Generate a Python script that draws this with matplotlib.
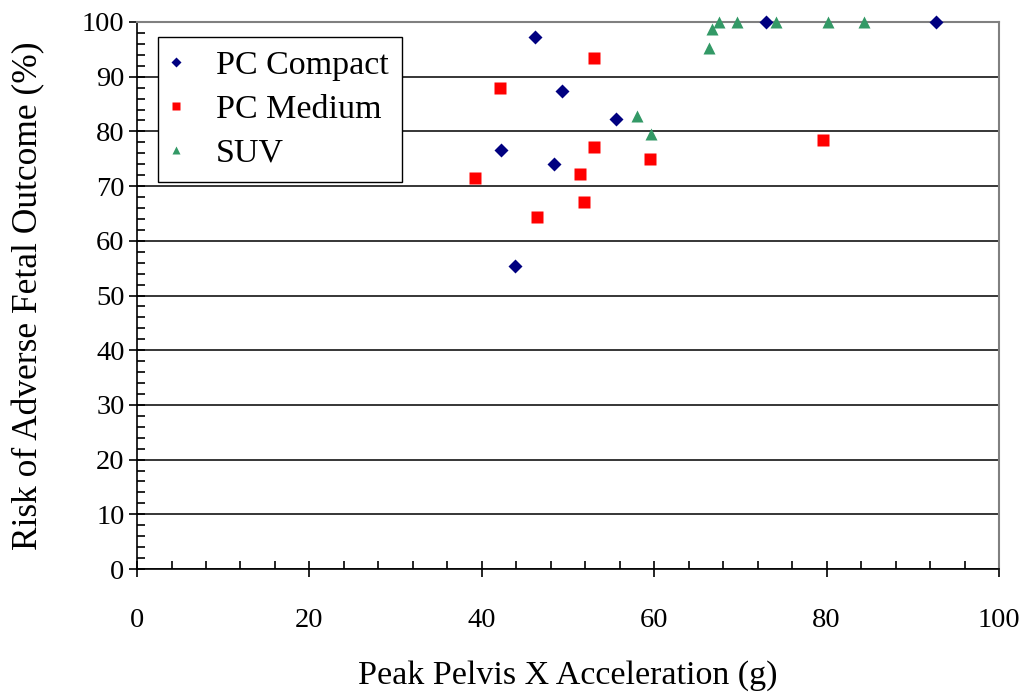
import matplotlib.pyplot as plt
from matplotlib.ticker import MultipleLocator

plt.rcParams['font.family'] = ['Liberation Serif', 'DejaVu Serif']

# peak pelvis x acceleration (g) and risk of adverse fetal outcome (%)
compact_x = [42.2, 43.9, 46.2, 48.4, 49.3, 55.6, 73.0, 92.7]
compact_y = [76.6, 55.4, 97.3, 74.0, 87.4, 82.3, 100, 100]

medium_x = [39.2, 42.1, 46.4, 51.4, 51.9, 53.0, 53.0, 59.5, 79.6]
medium_y = [71.5, 87.9, 64.4, 72.2, 67.1, 93.4, 77.1, 75.0, 78.4]

suv_x = [58.0, 59.6, 66.4, 66.7, 67.5, 69.6, 74.1, 80.2, 84.3]
suv_y = [82.8, 79.5, 95.2, 98.7, 100, 100, 100, 100, 100]

fig = plt.figure(figsize=(10.28, 6.94), dpi=100)
ax = fig.add_axes([0.1333, 0.1801, 0.8385, 0.7882])

ax.plot(compact_x, compact_y, 'D', color='#000080', ms=7, mec='none', label='PC Compact', clip_on=False, zorder=3)
ax.plot(medium_x, medium_y, 's', color='#FF0000', ms=8.5, mec='none', label='PC Medium', clip_on=False, zorder=3)
ax.plot(suv_x, suv_y, '^', color='#339966', ms=9, mec='none', label='SUV', clip_on=False, zorder=3)

ax.set_xlim(0, 100)
ax.set_ylim(0, 100)
ax.xaxis.set_major_locator(MultipleLocator(20))
ax.xaxis.set_minor_locator(MultipleLocator(4))
ax.yaxis.set_major_locator(MultipleLocator(10))
ax.yaxis.set_minor_locator(MultipleLocator(2))
ax.tick_params(which='major', direction='inout', length=12, width=1.2, labelsize=20.5)
ax.tick_params(which='minor', direction='in', length=6, width=1.2)
ax.tick_params(axis='x', which='major', pad=22)
ax.tick_params(axis='y', which='major', pad=3)

ax.yaxis.grid(True, which='major', color='black', lw=1.1)
ax.set_axisbelow(True)
for side in ['top', 'right']:
    ax.spines[side].set_color('#808080')
    ax.spines[side].set_linewidth(1.5)
for side in ['left', 'bottom']:
    ax.spines[side].set_linewidth(1.2)

ax.set_xlabel('Peak Pelvis X Acceleration (g)', fontsize=24.5, labelpad=20)
ax.set_ylabel('Risk of Adverse Fetal Outcome (%)', fontsize=25.5, labelpad=26)

leg = ax.legend(loc='upper left', bbox_to_anchor=(0.024, 0.973), fontsize=24.5,
                fancybox=False, edgecolor='black', framealpha=1,
                markerscale=0.7, handlelength=0.3, handletextpad=1.0,
                labelspacing=0.38, borderpad=0.4, borderaxespad=0)
leg.get_frame().set_linewidth(1.0)

fig.savefig('out.png', dpi=100)
